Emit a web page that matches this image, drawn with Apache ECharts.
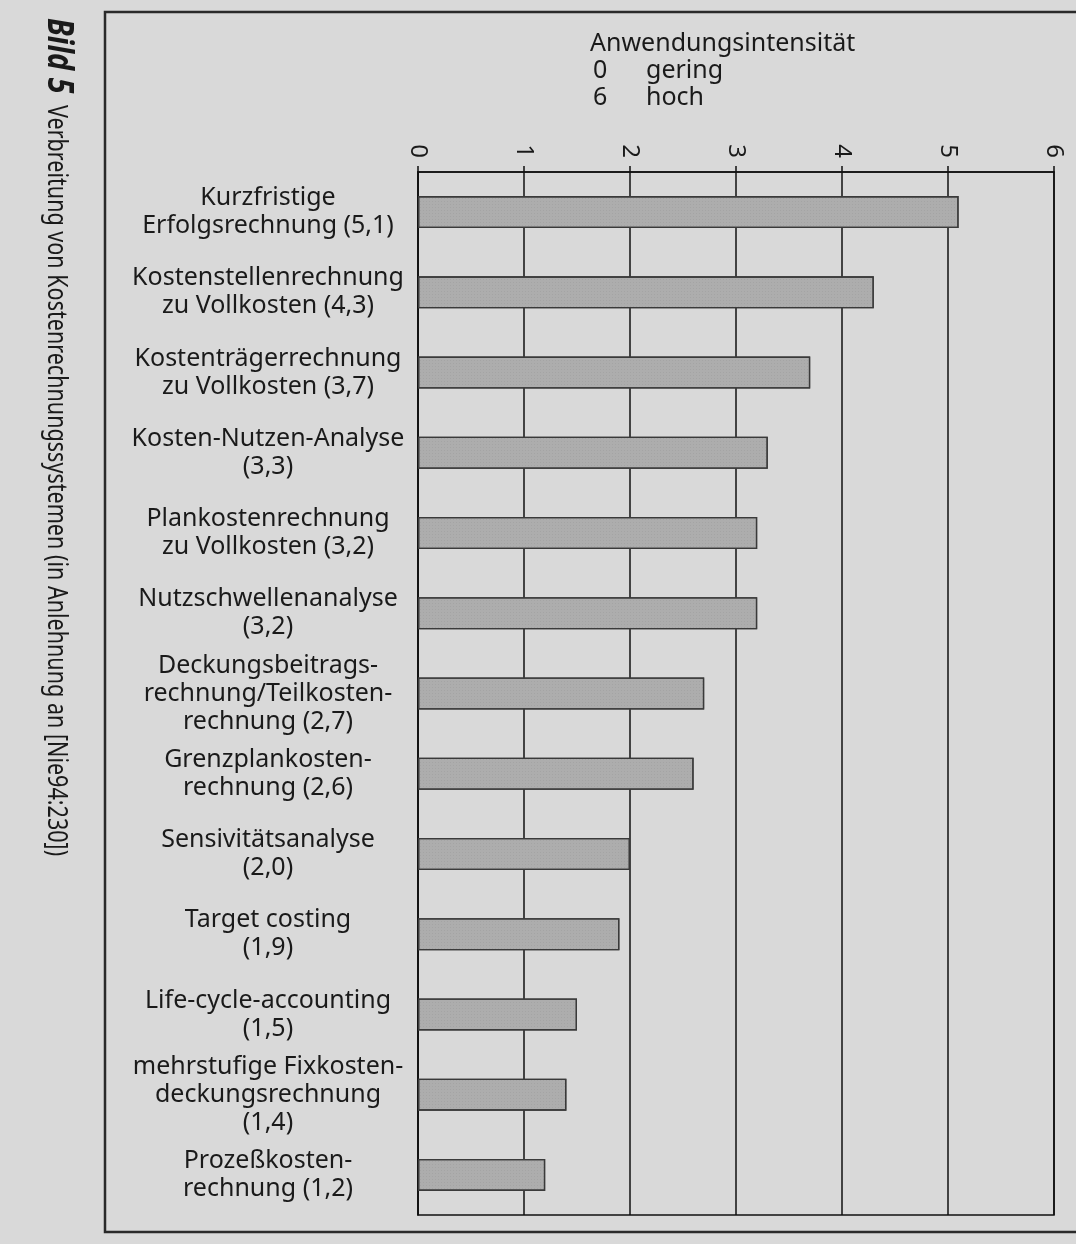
<!DOCTYPE html>
<html>
<head>
<meta charset="utf-8">
<script src="https://cdn.jsdelivr.net/npm/echarts@6/dist/echarts.min.js"></script>
<style>
  html, body { margin: 0; padding: 0; background: #d9d9d9; }
  #chart { width: 1076px; height: 1244px; }
</style>
</head>
<body>
<div id="chart"></div>
<script>
// Kategorien (Kostenrechnungssysteme)
const categories = [
    'Kurzfristige\nErfolgsrechnung (5,1)',
    'Kostenstellenrechnung\nzu Vollkosten (4,3)',
    'Kostenträgerrechnung\nzu Vollkosten (3,7)',
    'Kosten-Nutzen-Analyse\n(3,3)',
    'Plankostenrechnung\nzu Vollkosten (3,2)',
    'Nutzschwellenanalyse\n(3,2)',
    'Deckungsbeitrags-\nrechnung/Teilkosten-\nrechnung (2,7)',
    'Grenzplankosten-\nrechnung (2,6)',
    'Sensivitätsanalyse\n(2,0)',
    'Target costing\n(1,9)',
    'Life-cycle-accounting\n(1,5)',
    'mehrstufige Fixkosten-\ndeckungsrechnung\n(1,4)',
    'Prozeßkosten-\nrechnung (1,2)'
];
// Anwendungsintensität
const values = [5.1, 4.3, 3.7, 3.3, 3.2, 3.2, 2.7, 2.6, 2.0, 1.9, 1.5, 1.4, 1.2];
const tickLabels = ['0', '1', '2', '3', '4', '5', '6'];

const font = '"Noto Sans", "Open Sans", sans-serif';

let chart = echarts.init(document.getElementById('chart'));
let option = {
    backgroundColor: '#d9d9d9',
    animation: false,
    grid: {
        left: 418,
        right: 22,
        top: 172,
        bottom: 29,
        show: true,
        borderColor: '#111',
        borderWidth: 1.5,
        backgroundColor: 'transparent'
    },
    xAxis: {
        type: 'value',
        position: 'top',
        min: 0,
        max: 6,
        interval: 1,
        axisLine: { show: true, lineStyle: { color: '#111', width: 1.5 } },
        axisTick: { show: true, length: 6, lineStyle: { color: '#111', width: 1.5 } },
        axisLabel: {
            rotate: 90,
            margin: 14,
            fontFamily: font,
            fontSize: 24,
            color: '#1a1a1a',
            formatter: function (v) { return tickLabels[v]; }
        },
        splitLine: { show: true, lineStyle: { color: '#111', width: 1.5 } }
    },
    yAxis: {
        type: 'category',
        inverse: true,
        data: categories,
        axisLine: { show: true, lineStyle: { color: '#111', width: 1.5 } },
        axisTick: { show: false },
        axisLabel: {
            align: 'center',
            margin: 150,
            fontFamily: font,
            fontSize: 25,
            lineHeight: 28,
            color: '#1a1a1a'
        }
    },
    series: [{
        type: 'bar',
        data: values,
        barWidth: 32,
        itemStyle: {
            color: '#adadad',
            borderColor: '#3a3a3a',
            borderWidth: 1.3,
            decal: {
                symbol: 'rect',
                symbolSize: 0.6,
                color: 'rgba(90, 90, 90, 0.35)',
                dashArrayX: [1, 2],
                dashArrayY: [1, 2]
            }
        },
        z: 3
    }],
    graphic: [
        // Rahmen
        {
            type: 'rect',
            shape: { x: 105, y: 12, width: 1000, height: 1220 },
            style: { fill: 'none', stroke: '#2a2a2a', lineWidth: 2.5 },
            silent: true
        },
        // Legende oben
        {
            type: 'text', left: 590, top: 31,
            style: { text: 'Anwendungsintensität', font: '25px ' + font, fill: '#1a1a1a' }
        },
        {
            type: 'text', left: 593, top: 58,
            style: { text: '0', font: '25px ' + font, fill: '#1a1a1a' }
        },
        {
            type: 'text', left: 646, top: 58,
            style: { text: 'gering', font: '25px ' + font, fill: '#1a1a1a' }
        },
        {
            type: 'text', left: 593, top: 85,
            style: { text: '6', font: '25px ' + font, fill: '#1a1a1a' }
        },
        {
            type: 'text', left: 646, top: 85,
            style: { text: 'hoch', font: '25px ' + font, fill: '#1a1a1a' }
        },
        // Bildunterschrift links, gedreht
        {
            type: 'text', x: 58, y: 18, rotation: -Math.PI / 2, scaleX: 0.8,
            style: {
                text: 'Bild 5',
                font: 'italic bold 36px ' + font,
                fill: '#1a1a1a',
                textVerticalAlign: 'middle'
            }
        },
        {
            type: 'text', x: 56, y: 105, rotation: -Math.PI / 2, scaleX: 0.77,
            style: {
                text: 'Verbreitung von Kostenrechnungssystemen (in Anlehnung an [Nie94:230])',
                font: '28px ' + font,
                fill: '#1a1a1a',
                textVerticalAlign: 'middle'
            }
        }
    ]
};
chart.setOption(option);
</script>
</body>
</html>
